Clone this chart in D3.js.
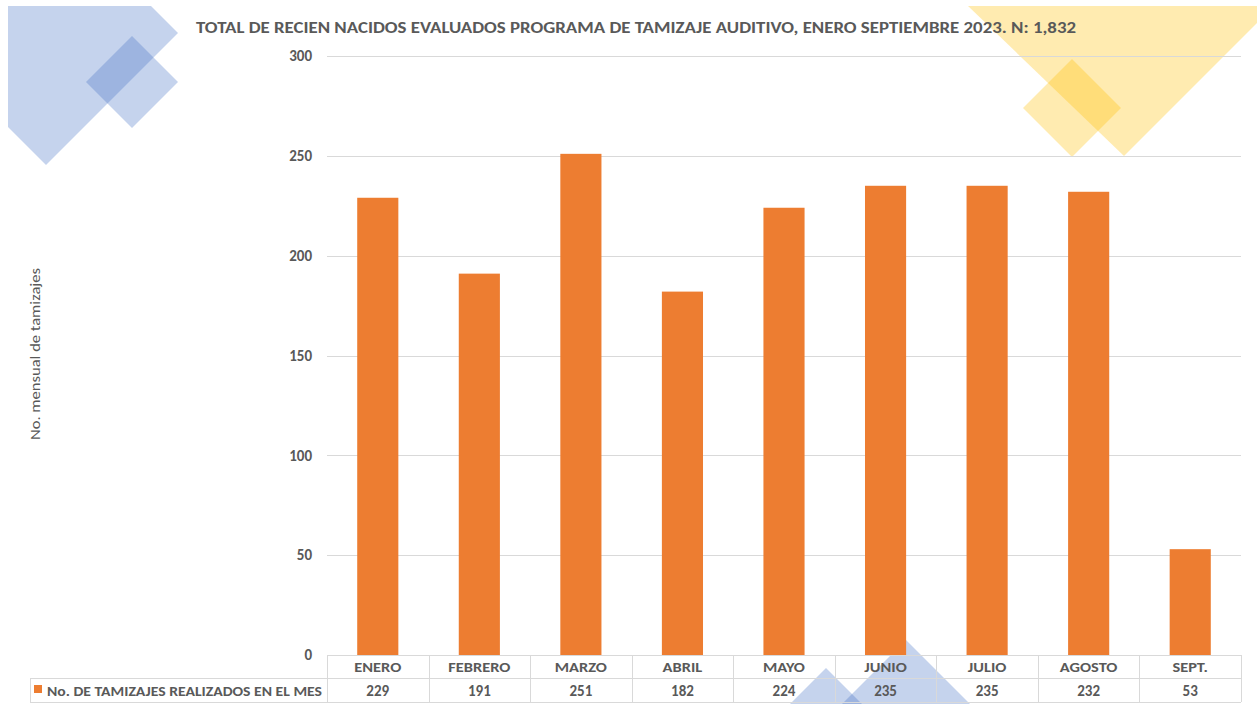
<!DOCTYPE html>
<html><head><meta charset="utf-8">
<script src="https://cdn.jsdelivr.net/npm/d3@7"></script>
<style>html,body{margin:0;padding:0;background:#fff;}svg{display:block;}</style>
</head><body>
<script>
const categories = ["ENERO","FEBRERO","MARZO","ABRIL","MAYO","JUNIO","JULIO","AGOSTO","SEPT."];
const values = [229,191,251,182,224,235,235,232,53];
const yTicks = [0,50,100,150,200,250,300];
const seriesName = "No. DE TAMIZAJES REALIZADOS EN EL MES";
const titleText = "TOTAL DE RECIEN NACIDOS EVALUADOS PROGRAMA DE TAMIZAJE AUDITIVO, ENERO SEPTIEMBRE 2023. N: 1,832";
const yTitle = "No. mensual de tamizajes";

(function () {
const W = 1257, H = 704;
const FONT = "Carlito, Calibri, Lato, 'Open Sans', 'Liberation Sans', sans-serif";
const GRAY = "#595959", GRID = "#d9d9d9";
const svg = d3.select("body").append("svg").attr("width", W).attr("height", H)
  .style("font-family", FONT);

// decorations (behind)
const deco = svg.append("g");
const blue = "#4472C4", yellow = "#FFC000", op = 0.31;
const polys = [
  {c: blue, p: [[8,6],[151,6],[178,33],[46,165],[8,127]]},
  {c: blue, p: [[132,36],[178,82],[132,128],[86,82]]},
  {c: yellow, p: [[968,6],[1257,6],[1257,23],[1124,156]]},
  {c: yellow, p: [[1072,59],[1121,108],[1072,157],[1023,108]]},
  {c: blue, p: [[826,668],[862,704],[790,704]]},
  {c: blue, p: [[906,640],[970,704],[842,704]]}
];
deco.selectAll("polygon").data(polys).join("polygon")
  .attr("points", d => d.p.map(q => q.join(",")).join(" "))
  .attr("fill", d => d.c).attr("fill-opacity", op);

const pLeft = 327, pRight = 1241, pTop = 56, pBottom = 655;
const x = d3.scaleBand().domain(categories).range([pLeft, pRight]).padding(0);
const y = d3.scaleLinear().domain([0, 300]).range([pBottom, pTop]);

// gridlines
svg.append("g").selectAll("line").data(yTicks).join("line")
  .attr("x1", pLeft).attr("x2", pRight)
  .attr("y1", d => Math.round(y(d)) + 0.5).attr("y2", d => Math.round(y(d)) + 0.5)
  .attr("stroke", GRID).attr("stroke-width", 1);

// y axis labels
const yAxis = d3.axisLeft(y).tickValues(yTicks).tickSize(0).tickPadding(15);
const ya = svg.append("g").attr("transform", `translate(${pLeft},0)`).call(yAxis);
ya.select(".domain").remove();
ya.selectAll("text").attr("fill", GRAY).style("font-size", "15px").style("font-weight", "bold")
  .style("font-family", FONT);

// bars
const bw = x.bandwidth() * 0.405;
svg.append("g").selectAll("rect").data(values).join("rect")
  .attr("x", (d, i) => x(categories[i]) + (x.bandwidth() - bw) / 2)
  .attr("width", bw)
  .attr("y", d => y(d)).attr("height", d => pBottom - y(d))
  .attr("fill", "#ED7D31");

// table
const t = svg.append("g");
const r1 = 655, r2 = 678, r3 = 702;
const tl = (x1, y1, x2, y2) => t.append("line").attr("x1", x1).attr("y1", y1).attr("x2", x2).attr("y2", y2)
  .attr("stroke", GRID).attr("stroke-width", 1);
tl(pLeft, r1 + 0.5, pRight, r1 + 0.5);
tl(30, r2 + 0.5, pRight, r2 + 0.5);
tl(30, r3 + 0.5, pRight, r3 + 0.5);
tl(30.5, r2, 30.5, r3);
categories.forEach(c => tl(Math.round(x(c)) + 0.5, r1, Math.round(x(c)) + 0.5, r3));
tl(pRight + 0.5, r1, pRight + 0.5, r3);

const cats = t.selectAll("text.cat").data(categories).join("text").attr("class", "cat")
  .attr("x", d => x(d) + x.bandwidth() / 2).attr("y", 672)
  .attr("text-anchor", "middle").attr("fill", GRAY)
  .style("font-size", "14.5px").style("font-weight", "bold").text(d => d);
cats.each(function () {
  const len = this.getComputedTextLength();
  d3.select(this).attr("textLength", len * 1.13).attr("lengthAdjust", "spacingAndGlyphs");
});
t.selectAll("text.val").data(values).join("text").attr("class", "val")
  .attr("x", (d, i) => x(categories[i]) + x.bandwidth() / 2).attr("y", 696)
  .attr("text-anchor", "middle").attr("fill", GRAY)
  .style("font-size", "15px").style("font-weight", "bold").text(d => d);

// legend in table
t.append("rect").attr("x", 34).attr("y", 685).attr("width", 8).attr("height", 8).attr("fill", "#ED7D31");
t.append("text").attr("x", 47).attr("y", 696).attr("fill", GRAY)
  .style("font-size", "14px").style("font-weight", "bold")
  .attr("textLength", 275).attr("lengthAdjust", "spacingAndGlyphs").text(seriesName);

// title
svg.append("text").attr("x", 636).attr("y", 33).attr("text-anchor", "middle")
  .attr("fill", GRAY).style("font-size", "15px").style("font-weight", "bold")
  .attr("textLength", 880).attr("lengthAdjust", "spacingAndGlyphs").text(titleText);

// y title
svg.append("text").attr("transform", "translate(40,354) rotate(-90)")
  .attr("text-anchor", "middle").attr("fill", GRAY).style("font-size", "13.5px")
  .attr("textLength", 172).attr("lengthAdjust", "spacingAndGlyphs").text(yTitle);
})();
</script>
</body></html>
